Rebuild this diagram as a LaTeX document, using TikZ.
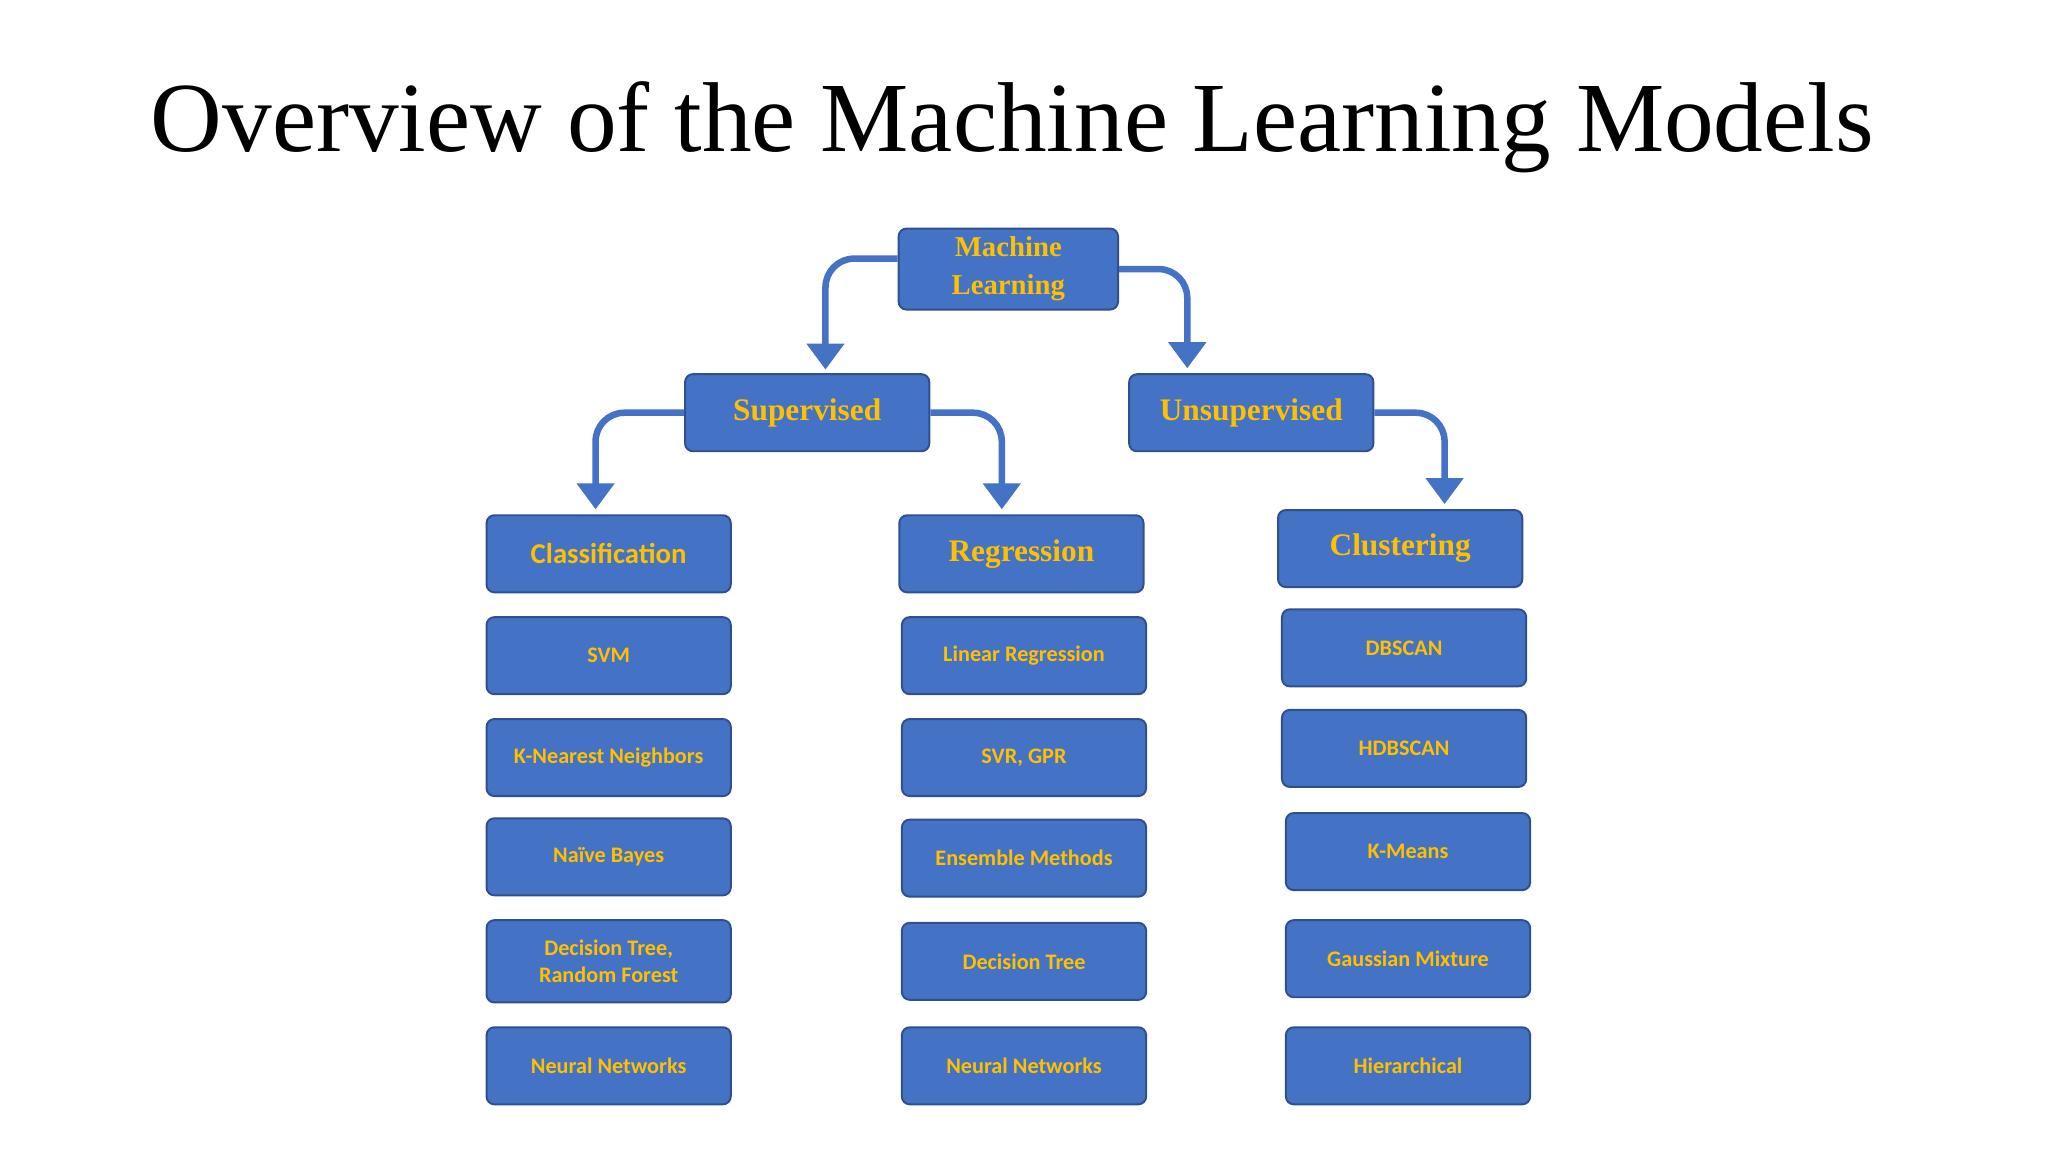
\documentclass[tikz,border=0pt]{standalone}
\usepackage{fontspec}
\setmainfont{Liberation Serif}
\newfontfamily\carl{Carlito}
\usetikzlibrary{arrows.meta}
\definecolor{bx}{HTML}{4472C4}
\definecolor{bd}{HTML}{2F4F8F}
\definecolor{tx}{HTML}{FFC000}
\begin{document}
\begin{tikzpicture}[x=1pt,y=-1pt,
  box/.style={draw=bd,line width=1.5pt,fill=bx,rounded corners=6pt,minimum width=187pt,minimum height=59pt,text=tx,align=center,inner sep=2pt},
  head/.style={box,font=\fontsize{24}{27}\selectfont\bfseries},
  item/.style={box,font=\carl\fontsize{17}{21}\selectfont\bfseries},
  arr/.style={draw=bx,line width=5pt,rounded corners=22pt,-{Triangle[width=28pt,length=20pt]},shorten >=4pt}]
\useasboundingbox (0,0) rectangle (1568,882);
\node[anchor=base west,font=\fontsize{76}{80}\selectfont] (title) at (112,116) {Overview of the Machine Learning Models};
\node[head,minimum width=168pt,minimum height=62pt,font=\fontsize{22}{29}\selectfont\bfseries] (ml) at (772,206) {Machine\\Learning};
\node[head] (sup) at (618,316) {Supervised};
\node[head] (uns) at (958,316) {Unsupervised};
\node[item,font=\carl\fontsize{22}{26}\selectfont\bfseries] (cla) at (466,424) {Classification};
\node[head] (reg) at (782,424) {Regression};
\node[head] (clu) at (1072,420) {Clustering};
\node[item] (c1) at (466,502) {SVM};
\node[item] (c2) at (466,580) {K-Nearest Neighbors};
\node[item] (c3) at (466,656) {Naïve Bayes};
\node[item,minimum height=63pt] (c4) at (466,736) {Decision Tree,\\Random Forest};
\node[item] (c5) at (466,816) {Neural Networks};
\node[item] (r1) at (784,502) {Linear Regression};
\node[item] (r2) at (784,580) {SVR, GPR};
\node[item] (r3) at (784,657) {Ensemble Methods};
\node[item] (r4) at (784,736) {Decision Tree};
\node[item] (r5) at (784,816) {Neural Networks};
\node[item] (k1) at (1075,496) {DBSCAN};
\node[item] (k2) at (1075,573) {HDBSCAN};
\node[item] (k3) at (1078,652) {K-Means};
\node[item] (k4) at (1078,734) {Gaussian Mixture};
\node[item] (k5) at (1078,816) {Hierarchical};
\coordinate (a1) at (632,287);
\coordinate (a2) at (909,286);
\coordinate (a3) at (456,394);
\coordinate (a4) at (767,394);
\coordinate (a5) at (1106,390);
\draw[arr] ([yshift=8pt]ml.west) -| (a1);
\draw[arr] (ml.east) -| (a2);
\draw[arr] (sup.west) -| (a3);
\draw[arr] (sup.east) -| (a4);
\draw[arr] (uns.east) -| (a5);
\end{tikzpicture}
\end{document}
